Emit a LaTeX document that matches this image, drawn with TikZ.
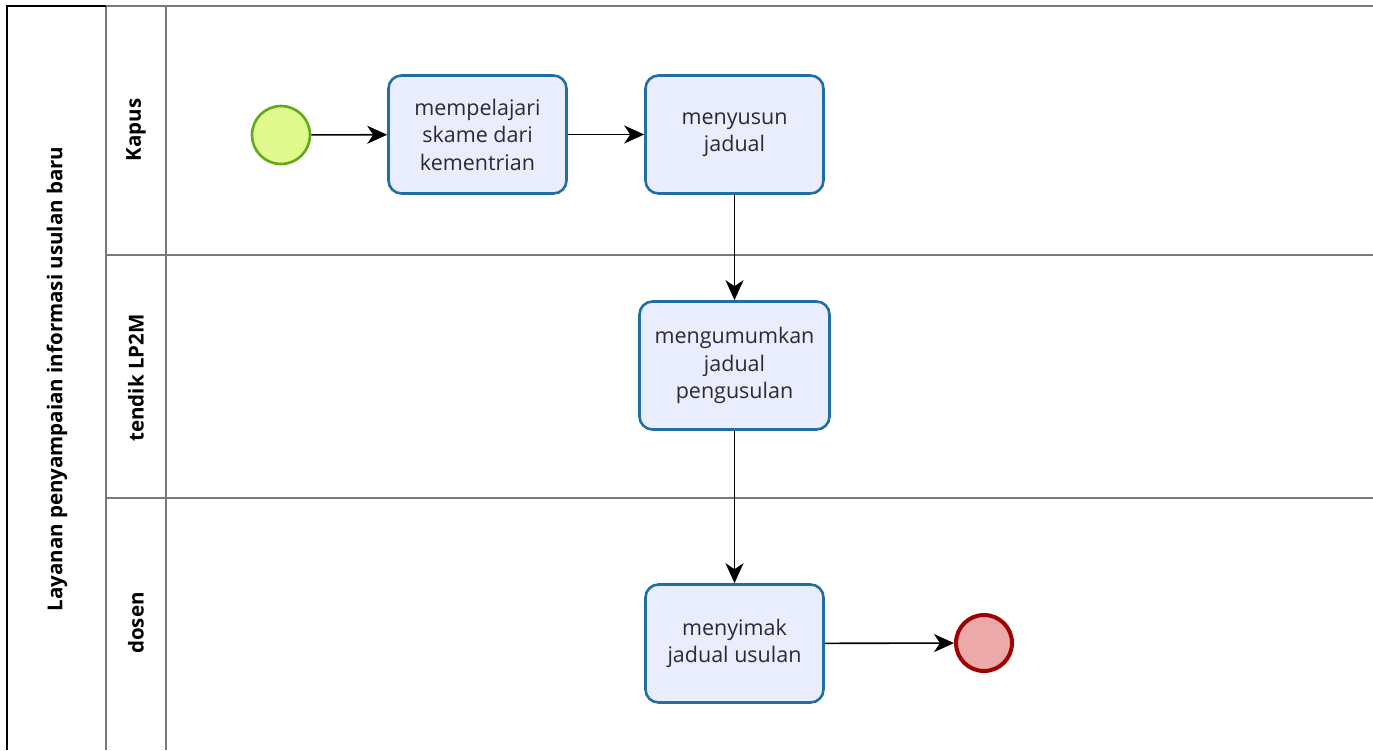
\documentclass[tikz,border=0pt]{standalone}
\usepackage{fontspec}
\setmainfont{Open Sans}
\usetikzlibrary{arrows.meta}
\definecolor{lanegray}{HTML}{7A7A7A}
\definecolor{taskstroke}{HTML}{1F6FA0}
\definecolor{taskfill}{HTML}{E9EDFD}
\definecolor{startfill}{HTML}{E1FA8E}
\definecolor{startstroke}{HTML}{64A81A}
\definecolor{endfill}{HTML}{EBA9A9}
\definecolor{endstroke}{HTML}{A00000}
\definecolor{txt}{HTML}{2A2A3A}
\tikzset{
  task/.style={draw=taskstroke, fill=taskfill, line width=2.6pt, rounded corners=13pt,
    align=center, text=txt, font=\fontsize{21.5}{27.5}\selectfont, inner sep=0pt},
  startev/.style={circle, draw=startstroke, fill=startfill, line width=2.6pt, minimum size=58pt, inner sep=0pt},
  endev/.style={circle, draw=endstroke, fill=endfill, line width=4pt, minimum size=56pt, inner sep=0pt},
  flow/.style={-{Stealth[length=20pt,width=18pt,inset=6pt]}, line width=1.6pt, black},
  laneline/.style={draw=lanegray, line width=2pt},
  lanelabel/.style={rotate=90, font=\bfseries\fontsize{20.5}{24}\selectfont, text=black},
}
\begin{document}
\begin{tikzpicture}[x=1pt,y=-1pt]
\useasboundingbox (0,0) rectangle (1373,750);
% pool and lanes
\draw[laneline] (106,6) -- (1373,6);
\draw[laneline] (106,6) -- (106,750);
\draw[laneline] (166,6) -- (166,750);
\draw[laneline] (106,255) -- (1373,255);
\draw[laneline] (106,498) -- (1373,498);
\draw[line width=2pt, black] (7,750) -- (7,6) -- (106,6);
% labels
\node[lanelabel] (pool) at (57,379) {Layanan penyampaian informasi usulan baru};
\node[lanelabel] (l1) at (136,130) {Kapus};
\node[lanelabel] (l2) at (136,378) {tendik LP2M};
\node[lanelabel] (l3) at (136,623) {dosen};
% events and tasks
\node[startev] (start) at (281,135) {};
\node[task, minimum width=178pt, minimum height=118pt] (t1) at (477.5,134.5) {mempelajari\\skame dari\\kementrian};
\node[task, minimum width=178pt, minimum height=118pt] (t2) at (734.5,134.5) {menyusun\\jadual};
\node[task, minimum width=190pt, minimum height=128pt] (t3) at (734.5,365.5) {mengumumkan\\jadual\\pengusulan};
\node[task, minimum width=178pt, minimum height=118pt] (t4) at (734.5,643.5) {menyimak\\jadual usulan};
\node[endev] (end) at (984,643) {};
% flows
\draw[flow] (start) -- (t1);
\draw[flow] (t1) -- (t2);
\draw[flow] (t2) -- (t3);
\draw[flow] (t3) -- (t4);
\draw[flow] (t4) -- (end);
\end{tikzpicture}
\end{document}
